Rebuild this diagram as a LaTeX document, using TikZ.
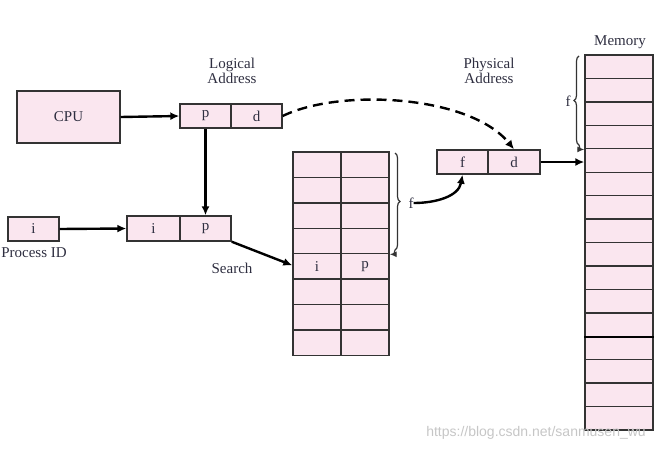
\documentclass[tikz,border=0pt]{standalone}
\usepackage{fontspec}
\setmainfont{Liberation Serif}
\newfontfamily\wmfont{Liberation Sans}
\usetikzlibrary{arrows.meta,decorations.pathreplacing,calc}
\definecolor{pinkc}{HTML}{FAE6EF}
\definecolor{linec}{HTML}{333333}
\definecolor{textc}{HTML}{2E2E40}
\tikzset{
  cell/.style={draw=linec,fill=pinkc,line width=1.4pt,inner sep=0pt,text=textc,
    font=\fontsize{15}{17}\selectfont},
  lbl/.style={text=textc,font=\fontsize{15}{17}\selectfont,inner sep=0pt,align=center},
  arr/.style={draw=black,line width=2.4pt,-{Latex[length=9pt,width=8pt]}},
  brc/.style={draw=linec,line width=1.2pt,decorate,decoration={brace,amplitude=5pt}},
}
\begin{document}
\begin{tikzpicture}[x=1pt,y=-1pt]
\useasboundingbox (0,0) rectangle (668,452);
% CPU
\node[cell,minimum width=103pt,minimum height=52pt] (cpu) at (68.5,117) {CPU};
% logical address
\node[cell,minimum width=51pt,minimum height=24pt] (lp) at (205.5,116) {p};
\node[cell,minimum width=51pt,minimum height=24pt] (ld) at (256.5,116) {d};
\node[lbl] (loglbl) at (232,71) {Logical\\[-2pt]Address};
% process id
\node[cell,minimum width=51pt,minimum height=24pt] (pi) at (33.5,229) {i};
\node[lbl] (pilbl) at (34,253) {Process ID};
% i p
\node[cell,minimum width=53pt,minimum height=25pt] (ipi) at (153.5,228.5) {i};
\node[cell,minimum width=51pt,minimum height=25pt] (ipp) at (205.5,228.5) {p};
\node[lbl] (search) at (232,268) {Search};
% page table
\foreach \r in {1,...,8}{
  \pgfmathsetmacro{\yy}{152+12.7+25.4*(\r-1)}
  \node[cell,minimum width=48pt,minimum height=25.4pt] (pt-\r-1) at (317,\yy) {};
  \node[cell,minimum width=48pt,minimum height=25.4pt] (pt-\r-2) at (365,\yy) {};
}
\node[lbl] at (pt-5-1) {i};
\node[lbl] at (pt-5-2) {p};
% physical address
\node[cell,minimum width=51pt,minimum height=24pt] (pf) at (462.5,162) {f};
\node[cell,minimum width=52pt,minimum height=24pt] (pd) at (514,162) {d};
\node[lbl] (physlbl) at (489,71) {Physical\\[-2pt]Address};
% memory
\foreach \r in {1,...,16}{
  \pgfmathsetmacro{\yy}{55+11.72+23.44*(\r-1)}
  \node[cell,minimum width=68pt,minimum height=23.44pt] (mem-\r) at (619,\yy) {};
}
\draw[black,line width=2.6pt] (mem-12.south west) -- (mem-12.south east);
\node[lbl] (memlbl) at (620,42) {Memory};
% arrows
\draw[arr] (cpu.east) -- (lp.west);
\draw[arr] (lp.south) -- (ipp.north);
\draw[arr] (pi.east) -- (ipi.west);
\draw[arr] (ipp.south east) -- ($(pt-5-1.west)+(0,-1)$);
\draw[arr,dash pattern=on 10pt off 6pt] (ld.east) .. controls (340,88) and (470,95) .. (pd.north);
% brace on page table
\coordinate (b1top) at (395,153);
\coordinate (b1bot) at (395,250);
\draw[brc] (b1top) -- (b1bot);
\draw[line width=1.2pt,draw=linec,-{Latex[length=7pt,width=6pt]}] (b1bot) to[out=-90,in=0] (pt-4-2.south east);
\node[lbl] (f1) at (411,203) {f};
\draw[arr] (f1.east) to[out=0,in=-100] (pf.south);
% physical -> memory
\draw[arr] (pd.east) -- (pd.east -| mem-5.west);
% brace on memory
\coordinate (b2top) at (579,56);
\coordinate (b2bot) at (579,145);
\draw[brc] (b2bot) -- (b2top);
\draw[line width=1.2pt,draw=linec,-{Latex[length=7pt,width=6pt]}] (b2bot) to[out=-90,in=180] (mem-4.south west);
\node[lbl] (f2) at (568,101) {f};
% watermark
\node[text=gray!45,font=\wmfont\fontsize{14}{16}\selectfont,inner sep=0pt] (wm) at (536,433) {https://blog.csdn.net/sanmusen\_wu};
\end{tikzpicture}
\end{document}
